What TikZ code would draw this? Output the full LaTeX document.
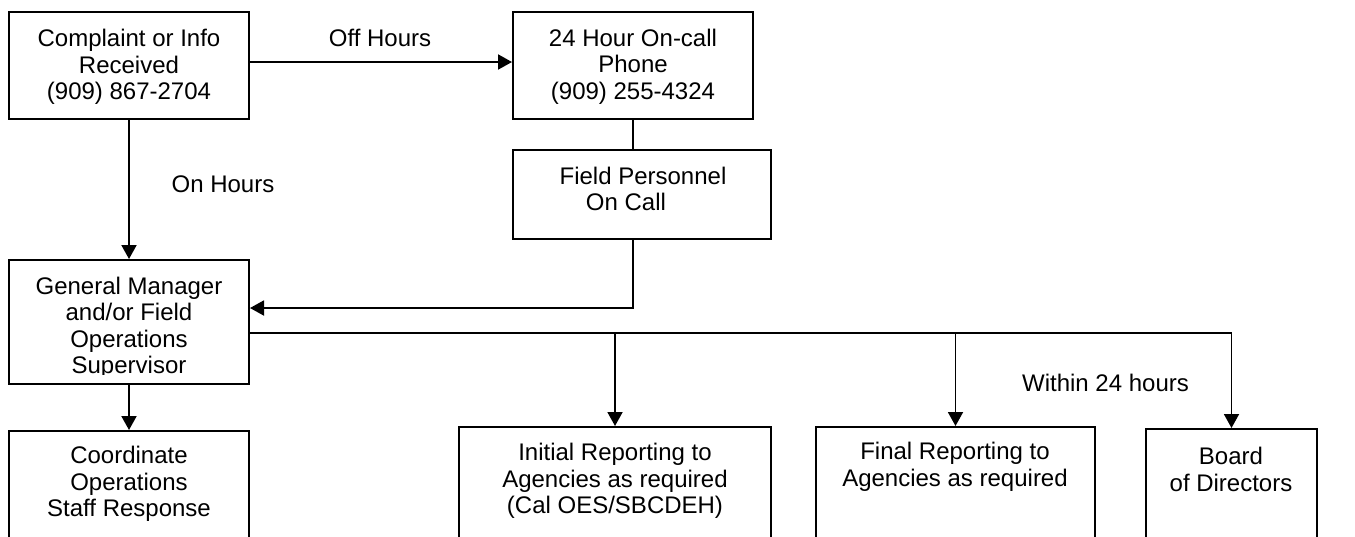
\documentclass[tikz,border=0pt]{standalone}
\usepackage{fontspec}
\setmainfont{Liberation Sans}
\usetikzlibrary{calc}
\usetikzlibrary{arrows.meta}

\begin{document}
\begin{tikzpicture}[x=0.5pt, y=-0.5pt,
        every node/.style={font=\fontsize{12}{13.25}\selectfont, align=center, inner sep=0pt},
        flowbox/.style={draw, line width=1pt},
        conn/.style={line width=0.95pt},
        arr/.style={conn, -{Triangle[length=7pt, width=7.5pt]}}]

        % page area, the bottom boxes run off the edge
        \useasboundingbox (0,0) rectangle (1355,536);
        \clip (0,0) rectangle (1355,536);

        % Top row
        \node [flowbox, minimum width=120pt, minimum height=53.5pt] (complaint) at (129,65.5) {};
        \node (complainttxt) at (129,67) {Complaint or Info\\Received\\(909) 867-2704};
        \node [flowbox, minimum width=120pt, minimum height=53.5pt] (oncall) at (633,65.5) {};
        \node (oncalltxt) at (633,66.5) {24 Hour On-call\\Phone\\(909) 255-4324};

        % Field personnel, text sits near the top
        \node [flowbox, minimum width=129pt, minimum height=44.5pt] (field) at (642,194.5) {};
        \node (fieldtxt) at (643,189) {Field Personnel\\\hspace*{-17pt}On Call};

        % Manager box, last line is cut off
        \node [flowbox, minimum width=120pt, minimum height=62pt] (general) at (129,322) {};
        \begin{scope}
            \clip (general.north west) rectangle ($(general.south east)+(0,-11)$);
            \node (generaltxt) at (129,328) {General Manager\\and/or Field\\Operations\\Supervisor};
        \end{scope}

        % Bottom row
        \node [flowbox, minimum width=120pt, minimum height=70pt] (coord) at (129,501) {};
        \node (coordtxt) at (129,484) {Coordinate\\Operations\\Staff Response};
        \node [flowbox, minimum width=156pt, minimum height=70pt] (initial) at (615,497) {};
        \node (initialtxt) at (615,481) {Initial Reporting to\\Agencies as required\\(Cal OES/SBCDEH)};
        \node [flowbox, minimum width=139.5pt, minimum height=70pt] (final) at (955.5,497) {};
        \node (finaltxt) at (955,467) {Final Reporting to\\Agencies as required};
        \node [flowbox, minimum width=85.5pt, minimum height=70pt] (board) at (1231.5,499) {};
        \node (boardtxt) at (1231,469.5) {Board\\of Directors};

        % Labels
        \node (offlbl) at (380,38) {Off Hours};
        \node (onlbl) at (223,184) {On Hours};
        \node (withinlbl) at (1105.5,383) {Within 24 hours};

        % Connectors
        \draw [arr] ($(complaint.east)+(0,-3.5)$) -- ($(oncall.west)+(0,-3.5)$);
        \draw [arr] (complaint) -- (general);
        \draw [conn] (oncall.south) -- (oncall.south |- field.north);
        \draw [arr] (oncall.south |- field.south) |- ($(general.east)+(0,-14)$);
        \draw [arr] (general) -- (coord);
        \coordinate (bus) at ($(general.east)+(0,11)$);
        \draw [conn] (bus) -- (bus -| board.north);
        \foreach \t in {initial, final, board}
            \draw [arr] (bus -| \t.north) -- (\t.north);
    \end{tikzpicture}
\end{document}
